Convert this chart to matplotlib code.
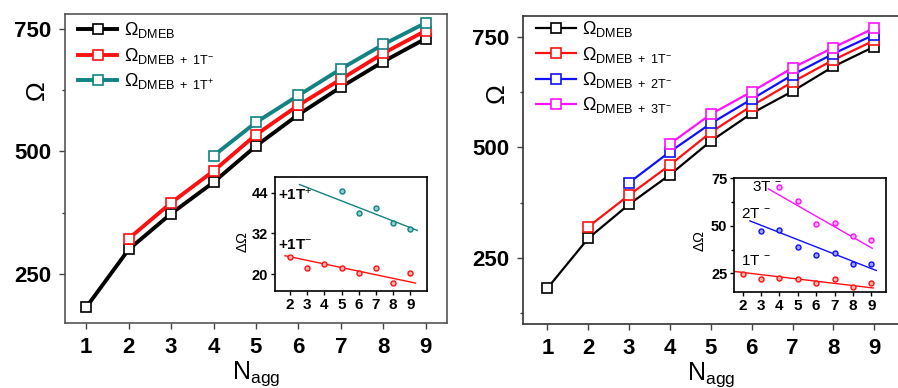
import numpy as np
import matplotlib
matplotlib.use("Agg")
import matplotlib.pyplot as plt
from matplotlib.ticker import MultipleLocator, AutoMinorLocator

plt.rcParams["font.family"] = ["Liberation Sans", "DejaVu Sans"]
plt.rcParams["mathtext.fontset"] = "custom"
plt.rcParams["mathtext.rm"] = "Liberation Sans"
plt.rcParams["mathtext.it"] = "Liberation Sans:italic"
plt.rcParams["mathtext.bf"] = "Liberation Sans:bold"

# ---------------- data ----------------
n_agg = [1, 2, 3, 4, 5, 6, 7, 8, 9]

# panel (a): cation / anion
omega_dmeb_a = [182, 300, 373, 437, 511, 575, 631, 683, 730]
n_1tm_a = [2, 3, 4, 5, 6, 7, 8, 9]
omega_1tm_a = [322, 395, 460, 534, 594, 647, 700, 746]
n_1tp_a = [4, 5, 6, 7, 8, 9]
omega_1tp_a = [491, 559, 614, 668, 718, 762]

# panel (b): one to three anions
omega_dmeb_b = [181, 294, 371, 438, 514, 577, 627, 683, 728]
n_1tm_b = [2, 3, 4, 5, 6, 7, 8, 9]
omega_1tm_b = [320, 392, 460, 534, 594, 648, 698, 742]
n_2tm_b = [3, 4, 5, 6, 7, 8, 9]
omega_2tm_b = [420, 490, 554, 609, 664, 712, 755]
n_3tm_b = [4, 5, 6, 7, 8, 9]
omega_3tm_b = [508, 575, 626, 680, 726, 770]

# insets: increments ΔΩ and their linear fits (slope, intercept, x-span)
dn_1tm_a = [2, 3, 4, 5, 6, 7, 8, 9]
d_1tm_a = [24.9, 21.9, 22.9, 21.9, 20.2, 21.9, 17.4, 20.2]
dn_1tp_a = [5, 6, 7, 8, 9]
d_1tp_a = [44.5, 38.1, 39.6, 35.1, 33.3]
fit_1tm_a = (-1.06, 27.2, 1.7, 9.3)
fit_1tp_a = (-1.97, 51.4, 2.55, 9.4)

dn_1tm_b = [2, 3, 4, 5, 6, 7, 8, 9]
d_1tm_b = [24.7, 22.0, 22.7, 21.9, 20.1, 21.9, 17.9, 20.1]
dn_2tm_b = [3, 4, 5, 6, 7, 8, 9]
d_2tm_b = [47.5, 47.8, 38.8, 34.4, 35.6, 30.0, 30.0]
dn_3tm_b = [4, 5, 6, 7, 8, 9]
d_3tm_b = [70.4, 62.9, 51.1, 51.5, 44.6, 42.7]
fit_1tm_b = (-1.15, 27.75, 1.52, 9.1)
fit_2tm_b = (-3.8, 61.7, 2.4, 9.27)
fit_3tm_b = (-5.54, 88.3, 3.4, 9.05)

RED = "#ff1010"
TEAL = "#128282"
BLUE = "#1010ff"
MAG = "#ff10ff"

lab_dmeb = r"$\Omega_{\mathrm{DMEB}}$"
lab_1tm = r"$\Omega_{\mathrm{DMEB\ +\ 1T^{-}}}$"
lab_1tp = r"$\Omega_{\mathrm{DMEB\ +\ 1T^{+}}}$"
lab_2tm = r"$\Omega_{\mathrm{DMEB\ +\ 2T^{-}}}$"
lab_3tm = r"$\Omega_{\mathrm{DMEB\ +\ 3T^{-}}}$"

fig = plt.figure(figsize=(8.98, 3.88), dpi=100)

W, H = 898.0, 388.0


def box(x0, x1, ytop, ybot):
    return [x0 / W, 1 - ybot / H, (x1 - x0) / W, (ybot - ytop) / H]


def style_main(ax, lo, hi, xlo, xhi):
    ax.set_xlim(xlo, xhi)
    ax.set_ylim(lo, hi)
    ax.set_xticks(n_agg)
    ax.yaxis.set_major_locator(MultipleLocator(250))
    ax.yaxis.set_minor_locator(AutoMinorLocator(2))
    ax.tick_params(axis="both", which="major", direction="out", length=4,
                   width=1, labelsize=16, pad=6, color="#444444")
    ax.tick_params(axis="y", which="minor", direction="out", length=2,
                   width=1, color="#444444")
    for lbl in ax.get_xticklabels() + ax.get_yticklabels():
        lbl.set_fontweight("bold")
    for s in ax.spines.values():
        s.set_color("#555555")
        s.set_linewidth(1.2)
    ax.set_xlabel(r"N$_{\mathrm{agg}}$", fontsize=18, labelpad=1)


def style_inset(ax, xlo, xhi, ylo, yhi, yticks, minor=False):
    ax.set_xlim(xlo, xhi)
    ax.set_ylim(ylo, yhi)
    ax.set_xticks([2, 3, 4, 5, 6, 7, 8, 9])
    ax.set_yticks(yticks)
    if minor:
        ax.yaxis.set_minor_locator(AutoMinorLocator(2))
    ax.tick_params(axis="x", which="major", direction="out", length=3,
                   width=1, labelsize=11, pad=2)
    ax.tick_params(axis="y", which="major", direction="out", length=3,
                   width=1, labelsize=10.5, pad=2)
    ax.tick_params(axis="y", which="minor", direction="out", length=2, width=1)
    for lbl in ax.get_xticklabels() + ax.get_yticklabels():
        lbl.set_fontweight("bold")
    for s in ax.spines.values():
        s.set_color("black")
        s.set_linewidth(1.2)
    ax.set_ylabel(r"$\Delta\Omega$", fontsize=10.5)


def fit_line(ax, fit, color):
    slope, icpt, x0, x1 = fit
    xs = np.array([x0, x1])
    ax.plot(xs, slope * xs + icpt, color=color, lw=1.0)


def pts(ax, x, y, color, face):
    ax.plot(x, y, "o", ms=3.6, mec=color, mfc=face, mew=1.0, ls="none")


# ---------------- left panel ----------------
axa = fig.add_axes(box(65, 447, 14, 323))
mk = dict(marker="s", ms=7.5, mfc="white", mew=1.2)
axa.plot(n_agg, omega_dmeb_a, color="black", lw=2.8, mec="black",
         label=lab_dmeb, **mk)
axa.plot(n_1tm_a, omega_1tm_a, color=RED, lw=2.8, mec=RED,
         label=lab_1tm, **mk)
axa.plot(n_1tp_a, omega_1tp_a, color=TEAL, lw=2.8, mec=TEAL,
         label=lab_1tp, **mk)
style_main(axa, 150, 780, 0.5, 9.5)
axa.set_ylabel(r"$\Omega$", fontsize=19)
axa.yaxis.set_label_coords(-0.04, 0.748)
axa.legend(loc="upper left", bbox_to_anchor=(0.0, 1.02), frameon=False,
           fontsize=13, handlelength=2.2, handletextpad=0.35,
           labelspacing=0.3, borderaxespad=0.3)

ina = fig.add_axes(box(275, 427, 177, 291))
fit_line(ina, fit_1tp_a, TEAL)
fit_line(ina, fit_1tm_a, RED)
pts(ina, dn_1tp_a, d_1tp_a, TEAL, "#8fcfcf")
pts(ina, dn_1tm_a, d_1tm_a, RED, "#ffb0b0")
style_inset(ina, 1.12, 9.97, 15, 48.6, [20, 32, 44])
ina.yaxis.set_label_coords(-0.165, 0.43)
ina.text(1.3, 41.8, r"+1T$^{+}$", fontsize=11, fontweight="bold")
ina.text(1.3, 27.5, r"+1T$^{-}$", fontsize=11, fontweight="bold")

# ---------------- right panel ----------------
axb = fig.add_axes(box(523.3, 900, 15.7, 324))
mk2 = dict(marker="s", ms=7.5, mfc="white", mew=1.2)
axb.plot(n_agg, omega_dmeb_b, color="black", lw=1.6, mec="black",
         label=lab_dmeb, **mk2)
axb.plot(n_1tm_b, omega_1tm_b, color=RED, lw=1.6, mec=RED,
         label=lab_1tm, **mk2)
axb.plot(n_2tm_b, omega_2tm_b, color=BLUE, lw=1.6, mec=BLUE,
         label=lab_2tm, **mk2)
axb.plot(n_3tm_b, omega_3tm_b, color=MAG, lw=1.6, mec=MAG,
         label=lab_3tm, **mk2)
style_main(axb, 100, 798, 0.41, 9.63)
for s in axb.spines.values():
    s.set_color("#333333")
axb.set_ylabel(r"$\Omega$", fontsize=19)
axb.yaxis.set_label_coords(-0.035, 0.743)
axb.legend(loc="upper left", bbox_to_anchor=(0.0, 1.03), frameon=False,
           fontsize=13, handlelength=2.2, handletextpad=0.35,
           labelspacing=0.3, borderaxespad=0.3)

inb = fig.add_axes(box(734.3, 886, 178.3, 292.3))
fit_line(inb, fit_3tm_b, MAG)
fit_line(inb, fit_2tm_b, BLUE)
fit_line(inb, fit_1tm_b, RED)
pts(inb, dn_3tm_b, d_3tm_b, MAG, "#ffb0ff")
pts(inb, dn_2tm_b, d_2tm_b, BLUE, "#a0a0ff")
pts(inb, dn_1tm_b, d_1tm_b, RED, "#ffb0b0")
style_inset(inb, 1.55, 9.8, 15, 75, [25, 50, 75], minor=True)
inb.yaxis.set_label_coords(-0.18, 0.45)
inb.text(2.5, 68.5, r"3T$^{\ -}$", fontsize=11)
inb.text(1.9, 54.0, r"2T$^{\ -}$", fontsize=11)
inb.text(1.9, 29.5, r"1T$^{\ -}$", fontsize=11)

fig.savefig("out.png", dpi=100)
